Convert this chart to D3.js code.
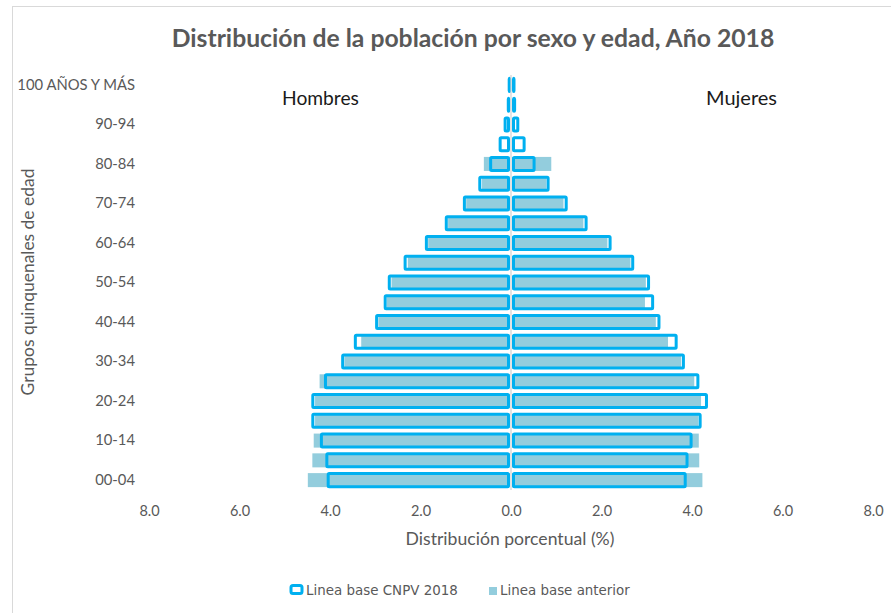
<!DOCTYPE html>
<html>
<head>
<meta charset="utf-8">
<script src="https://cdn.jsdelivr.net/npm/d3@7"></script>
<style>
  body { margin: 0; background: #fff; }
  text { font-family: Lato, "Open Sans", sans-serif; }
</style>
</head>
<body>
<svg id="chart" width="891" height="613"></svg>
<script>
// age groups, bottom to top
const ages = ["00-04","05-09","10-14","15-19","20-24","25-29","30-34","35-39","40-44","45-49",
  "50-54","55-59","60-64","65-69","70-74","75-79","80-84","85-89","90-94","95-99","100 AÑOS Y MÁS"];

// % of population, Linea base CNPV 2018
const cnpvHombres = [4.04,4.07,4.19,4.38,4.38,4.10,3.72,3.44,2.97,2.78,2.69,2.34,1.87,1.43,1.03,0.69,0.45,0.24,0.13,0.06,0.04];
const cnpvMujeres = [3.85,3.89,3.98,4.18,4.32,4.13,3.81,3.65,3.27,3.13,3.04,2.69,2.19,1.66,1.22,0.82,0.51,0.29,0.15,0.08,0.05];

// % of population, Linea base anterior (80 y mas grouped in 80-84)
const antHombres = [4.49,4.39,4.36,4.33,4.33,4.23,3.68,3.31,2.93,2.74,2.64,2.28,1.83,1.39,0.99,0.64,0.60,0,0,0,0];
const antMujeres = [4.23,4.16,4.15,4.14,4.20,4.05,3.76,3.47,3.20,2.96,2.98,2.64,2.13,1.60,1.16,0.78,0.89,0,0,0,0];

const xTicks = [-8,-6,-4,-2,0,2,4,6,8];

const blue = "#00b0f0";
const lightBlue = "#93cddd";
const grey = "#595959";

let svg = d3.select("#chart");

//scale font so text fills a given width
function fitWidth(sel, w){
  let base = parseFloat(sel.attr("font-size"));
  let len = sel.node().getComputedTextLength();
  sel.attr("font-size", base * w / len);
}

// chart frame
svg.append("rect")
  .attr("x", 12.5).attr("y", 6.5)
  .attr("width", 900).attr("height", 700)
  .attr("fill", "none")
  .attr("stroke", "#d9d9d9");

//scales
let x = d3.scaleLinear().domain([-8, 8]).range([149, 873]);
let y = d3.scaleBand().domain(ages).range([490, 75]).paddingInner(0.29).paddingOuter(0.145);
let x0 = x(0);

let rows = ages.map((a, i) => ({
  age: a, ch: cnpvHombres[i], cm: cnpvMujeres[i], ah: antHombres[i], am: antMujeres[i]
}));

// anterior bars (filled)
let bars = svg.append("g");
bars.selectAll(".antH").data(rows.filter(d => d.ah > 0)).enter()
  .append("rect")
  .attr("x", d => x(-d.ah))
  .attr("y", d => y(d.age))
  .attr("width", d => x0 - 1 - x(-d.ah))
  .attr("height", y.bandwidth())
  .attr("fill", lightBlue);

bars.selectAll(".antM").data(rows.filter(d => d.am > 0)).enter()
  .append("rect")
  .attr("x", x0 + 1)
  .attr("y", d => y(d.age))
  .attr("width", d => x(d.am) - x0 - 1)
  .attr("height", y.bandwidth())
  .attr("fill", lightBlue);

// CNPV 2018 bars (outline)
bars.selectAll(".cnpvH").data(rows).enter()
  .append("rect")
  .attr("x", d => x(-d.ch))
  .attr("y", d => y(d.age) + 0.5)
  .attr("width", d => Math.max(0.5, x0 - 2.5 - x(-d.ch)))
  .attr("height", y.bandwidth() - 1)
  .attr("rx", 1)
  .attr("fill", "none")
  .attr("stroke", blue)
  .attr("stroke-width", 3);

bars.selectAll(".cnpvM").data(rows).enter()
  .append("rect")
  .attr("x", x0 + 2.5)
  .attr("y", d => y(d.age) + 0.5)
  .attr("width", d => Math.max(0.5, x(d.cm) - x0 - 2.5))
  .attr("height", y.bandwidth() - 1)
  .attr("rx", 1)
  .attr("fill", "none")
  .attr("stroke", blue)
  .attr("stroke-width", 3);

// vertical axis line
svg.append("line")
  .attr("x1", x0).attr("x2", x0)
  .attr("y1", 75).attr("y2", 490)
  .attr("stroke", "#d0d0d0")
  .attr("stroke-width", 1.2);

// y axis
let yAxis = svg.append("g")
  .attr("transform", "translate(135,0)")
  .call(d3.axisLeft(y).tickValues(ages.filter((d, i) => i % 2 === 0)).tickSize(0).tickPadding(0));
yAxis.select(".domain").remove();
yAxis.selectAll("text")
  .attr("fill", grey)
  .attr("font-size", 14.8)
  .style("font-family", "Lato, sans-serif");

// x axis
let xAxis = svg.append("g")
  .attr("transform", "translate(0,506)")
  .call(d3.axisBottom(x).tickValues(xTicks).tickFormat(d => Math.abs(d).toFixed(1)).tickSize(0).tickPadding(0));
xAxis.select(".domain").remove();
xAxis.selectAll("text")
  .attr("fill", grey)
  .attr("font-size", 14.5)
  .style("font-family", "Lato, sans-serif");

// title
let title = svg.append("text")
  .attr("x", 473).attr("y", 47)
  .attr("text-anchor", "middle")
  .attr("font-size", 20)
  .attr("font-weight", "bold")
  .attr("fill", grey)
  .text("Distribución de la población por sexo y edad, Año 2018");
fitWidth(title, 603);

// Hombres / Mujeres
let hom = svg.append("text")
  .attr("x", 282).attr("y", 105)
  .attr("font-size", 17)
  .attr("fill", "#1a1a1a")
  .text("Hombres");
fitWidth(hom, 77);

let muj = svg.append("text")
  .attr("x", 706).attr("y", 105)
  .attr("font-size", 17)
  .attr("fill", "#1a1a1a")
  .text("Mujeres");
fitWidth(muj, 71);

// axis titles
let xTitle = svg.append("text")
  .attr("x", 510).attr("y", 545)
  .attr("text-anchor", "middle")
  .attr("font-size", 14)
  .attr("fill", grey)
  .text("Distribución porcentual (%)");
fitWidth(xTitle, 209);

let yTitle = svg.append("text")
  .attr("transform", "translate(34,282) rotate(-90)")
  .attr("text-anchor", "middle")
  .attr("font-size", 14)
  .attr("fill", grey)
  .text("Grupos quinquenales de edad");
fitWidth(yTitle, 227);

// legend
let legend = svg.append("g");
legend.append("rect")
  .attr("x", 291).attr("y", 585.5)
  .attr("width", 11).attr("height", 8)
  .attr("rx", 2)
  .attr("fill", "#fff")
  .attr("stroke", blue)
  .attr("stroke-width", 3);

let leg1 = legend.append("text")
  .attr("x", 306).attr("y", 594.5)
  .attr("font-size", 13)
  .attr("fill", grey)
  .style("font-family", "'DejaVu Sans', sans-serif")
  .text("Linea base CNPV 2018");
fitWidth(leg1, 152);

legend.append("rect")
  .attr("x", 489).attr("y", 587)
  .attr("width", 8).attr("height", 8)
  .attr("fill", lightBlue);

let leg2 = legend.append("text")
  .attr("x", 500).attr("y", 594.5)
  .attr("font-size", 13)
  .attr("fill", grey)
  .style("font-family", "'DejaVu Sans', sans-serif")
  .text("Linea base anterior");
fitWidth(leg2, 130);
</script>
</body>
</html>
